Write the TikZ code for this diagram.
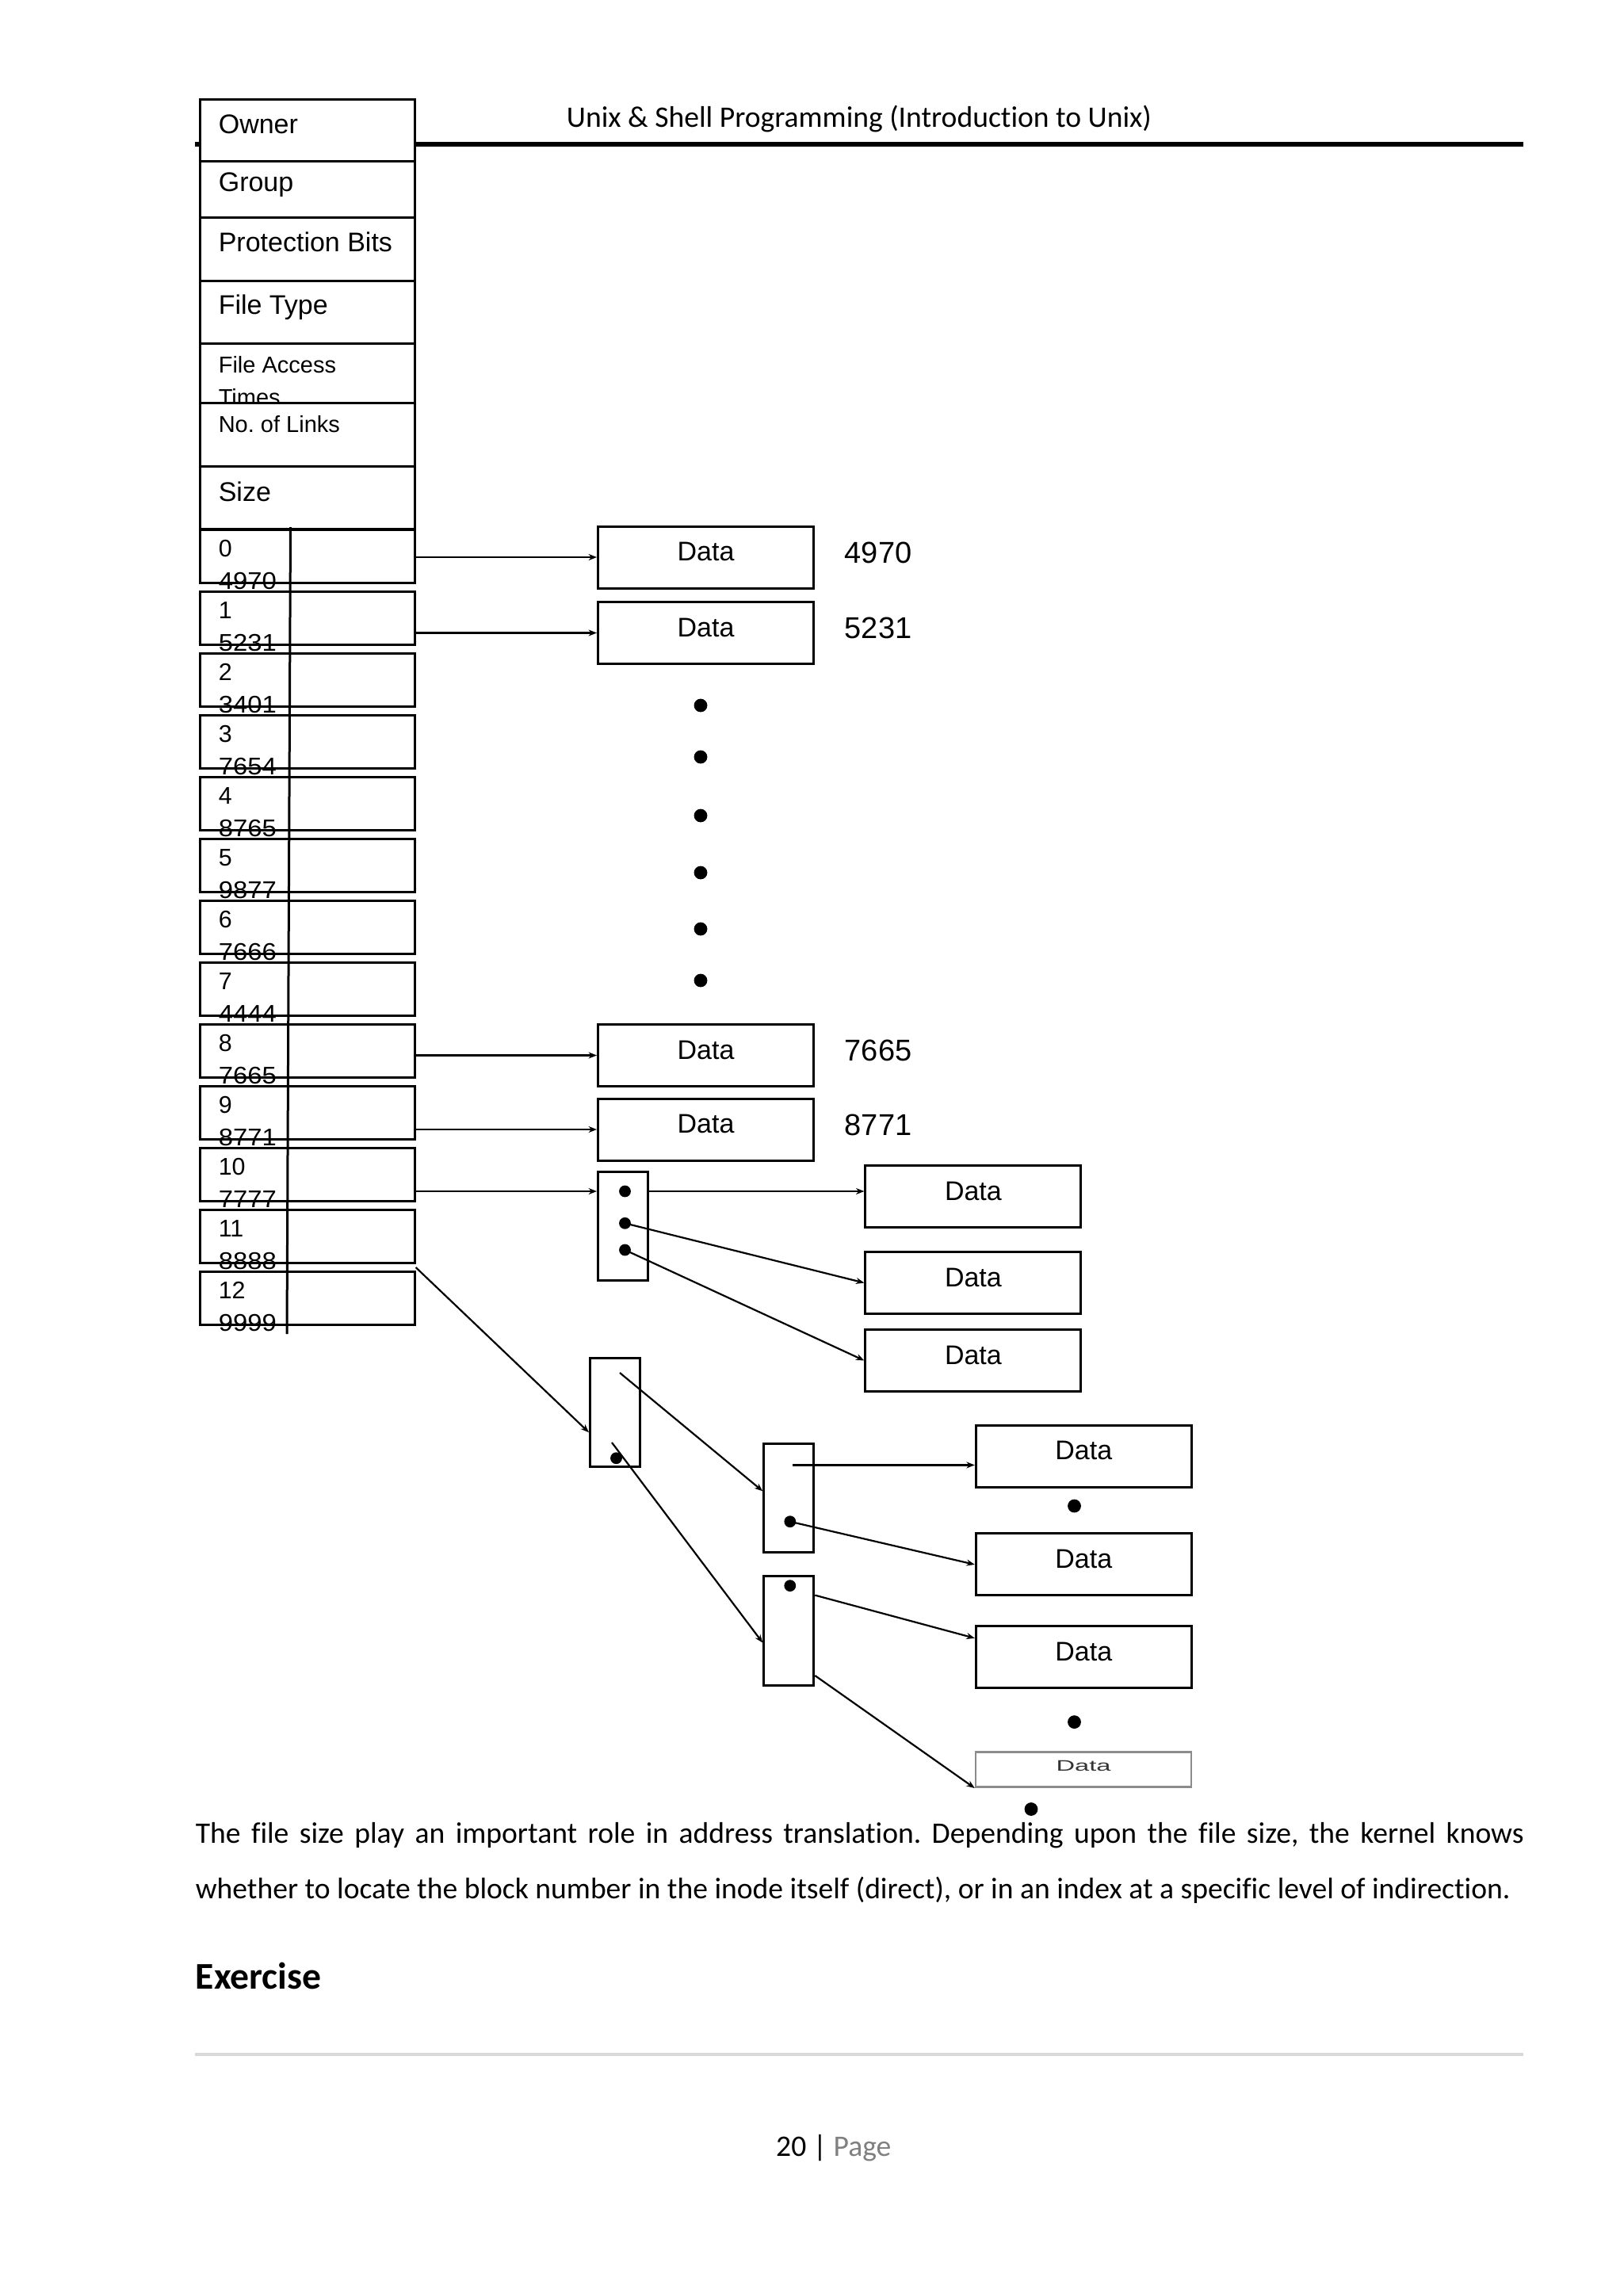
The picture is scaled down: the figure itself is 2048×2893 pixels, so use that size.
\documentclass[tikz,border=0pt]{standalone}
\usepackage{fontspec}
\usepackage{graphicx}
\setmainfont{Liberation Sans}
\newfontfamily\calib[Ligatures={NoCommon}]{Carlito}
\usetikzlibrary{arrows.meta,calc}
\frenchspacing
\begin{document}
\begin{tikzpicture}[x=0.25pt,y=-0.25pt,
  cell/.style={draw, line width=0.75pt, inner sep=0pt, anchor=north west, minimum width=67.65pt},
  datab/.style={draw, line width=0.75pt, inner sep=0pt, anchor=north west, minimum width=68pt, minimum height=19.5pt, font=\fontsize{8.5}{10}\selectfont, text height=6.25pt, text depth=4pt},
  ibox/.style={draw, line width=0.75pt, inner sep=0pt, anchor=north west, minimum width=15.75pt},
  lbl/.style={anchor=base west, inner sep=0pt, font=\fontsize{8.5}{10}\selectfont},
  slbl/.style={anchor=base west, inner sep=0pt, font=\fontsize{7.25}{9}\selectfont},
  num/.style={anchor=base west, inner sep=0pt, font=\fontsize{7.6}{9}\selectfont},
  big/.style={anchor=base west, inner sep=0pt, font=\fontsize{9.5}{11}\selectfont},
  dotn/.style={circle, fill, inner sep=0pt, minimum size=4.2pt},
  sdot/.style={circle, fill, inner sep=0pt, minimum size=3.7pt},
  conn/.style={line width=0.55pt, -{Stealth[length=2.6pt,width=2pt]}},
  ptext/.style={anchor=base west, inner sep=0pt, font=\calib\fontsize{9.4}{11}\selectfont}
]
\useasboundingbox (0,0) rectangle (2048,2893);
\fill[white] (0,0) rectangle (2048,2893);

% page header
\draw[line width=1.5pt] (246,182) -- (1922,182);
\node[ptext, anchor=base] (hdr) at (1084,160.7) {Unix \& Shell Programming (Introduction to Unix)};

% inode header cells
\node[cell, fill=white, minimum height=19.5pt] (owner) at (251,124) {};
\node[lbl] (towner) at (275,168) {Owner};
\node[cell, minimum height=17.75pt] (group) at (251,202) {};
\node[lbl] (tgroup) at (275,241.6) {Group};
\node[cell, minimum height=20pt] (prot) at (251,273) {};
\node[lbl] (tprot) at (275,317) {Protection Bits};
\node[cell, minimum height=19.75pt] (ftype) at (251,353) {};
\node[lbl] (tftype) at (275,396.6) {File Type};
\node[cell, minimum height=18.75pt] (facc) at (251,432) {};
\node[slbl] (tfacc) at (275,470.4) {File Access};
\node[slbl] (ttimes) at (275,511.5) {Times};
\node[cell, fill=white, minimum height=20pt] (nlinks) at (251,507) {};
\node[slbl] (tnlinks) at (275,545.8) {No. of Links};
\node[cell, minimum height=19.75pt] (size) at (251,587) {};
\node[lbl] (tsize) at (275,632) {Size};

% direct / indirect entries
\foreach \i/\v in {0/4970,1/5231,2/3401,3/7654,4/8765,5/9877,6/7666,7/4444,8/7665,9/8771,10/7777,11/8888,12/9999} {
  \node[cell, minimum height=16.75pt] (row\i) at (251,{667+78*\i}) {};
  \node[num] (ri\i) at (275,{702+78*\i}) {\i};
  \node[num] (rv\i) at (275,{743+78*\i}) {\scalebox{1.08}[1]{\v}};
}
\draw[line width=0.75pt] (366.5,665) -- (362,1683);

% direct data blocks
\node[datab] (d0) at (753,662.5) {Data};
\node[big] (n0) at (1065,710) {4970};
\node[datab] (d1) at (753,758) {Data};
\node[big] (n1) at (1065,805) {5231};
\node[datab] (d8) at (753,1291) {Data};
\node[big] (n8) at (1065,1338.5) {7665};
\node[datab] (d9) at (753,1384.5) {Data};
\node[big] (n9) at (1065,1432) {8771};

\foreach \y [count=\k] in {890,955,1029,1101,1172,1237}
  \node[dotn] (cd\k) at (884,\y) {};

% single indirect
\node[ibox, minimum height=34.3pt] (sind) at (753,1477) {};
\node[sdot] (s1) at (788.5,1503) {};
\node[sdot] (s2) at (788.5,1543.3) {};
\node[sdot] (s3) at (788.5,1577) {};
\node[datab] (dA) at (1090.4,1469) {Data};
\node[datab] (dB) at (1090.4,1578) {Data};
\node[datab] (dC) at (1090.4,1676) {Data};

% double indirect
\node[ibox, minimum height=34.2pt] (dind) at (743,1711.7) {};
\node[sdot] (dd) at (777.5,1839.7) {};
\node[ibox, minimum height=34.2pt] (bA) at (962.3,1820.2) {};
\node[sdot] (a2) at (996.8,1919.7) {};
\node[ibox, minimum height=34.4pt] (bB) at (962.3,1987.3) {};
\node[sdot] (b1) at (996.8,2000.6) {};
\node[datab] (dD) at (1229.8,1796.6) {Data};
\node[dotn] (t1) at (1355.5,1900) {};
\node[datab] (dE) at (1229.8,1933.4) {Data};
\node[datab] (dF) at (1229.8,2050.3) {Data};
\node[dotn] (t2) at (1355.5,2172.6) {};
\node[draw=black!45, line width=0.65pt, anchor=north west, inner sep=0pt, minimum width=68pt, minimum height=11.1pt, font=\fontsize{4.8}{5}\selectfont, text=black!80, text height=3.3pt, text depth=2.2pt] (dG) at (1229.8,2209) {\scalebox{1.7}[1]{Data}};
\node[dotn] (t3) at (1301,2282.5) {};

% connectors
\draw[conn] (d0.west -| row0.east) -- (d0.west);
\draw[conn] (d1.west -| row1.east) -- (d1.west);
\draw[conn] (d8.west -| row8.east) -- (d8.west);
\draw[conn] (d9.west -| row9.east) -- (d9.west);
\draw[conn] (s1 -| row10.east) -- (s1 -| sind.west);
\draw[conn] (s1 -| sind.east) -- (s1 -| dA.west);
\draw[conn] (s2.center) -- (dB.west);
\draw[conn] (s3.center) -- (dC.west);
\coordinate (dstart) at ($(row11.south east)!0.5!(row12.north east)$);
\draw[conn] (dstart) -- ([yshift=-6.4pt]dind.west);
\coordinate (d1s) at (782,1732);
\draw[conn] (d1s) -- ([yshift=2.2pt]bA.west);
\coordinate (d2s) at (772,1820);
\draw[conn] (d2s) -- ([yshift=-3.75pt]bB.west);
\coordinate (a1) at (1000,1848.4);
\draw[conn] (a1) -- (a1 -| dD.west);
\draw[conn] (a2.center) -- (dE.west);
\draw[conn] ([yshift=11.25pt]bB.east) -- ([yshift=6pt]dF.west);
\draw[conn] ([yshift=-14.1pt]bB.east) -- (dG.south west);

% body text
\node[ptext] (p1) at (246,2325.7) {\makebox[419pt][s]{The file size play an important role in address translation. Depending upon the file size, the kernel knows}};
\node[ptext] (p2) at (246,2395) {whether to locate the block number in the inode itself (direct), or in an index at a specific level of indirection.};
\node[ptext, font=\calib\bfseries\fontsize{11.9}{14}\selectfont] (ex) at (246,2509.3) {Exercise};
\draw[line width=1pt, draw=black!15] (246,2592) -- (1922,2592);
\node[ptext] (pg) at (978.4,2720) {20 | \textcolor{black!50}{Page}};
\end{tikzpicture}
\end{document}
